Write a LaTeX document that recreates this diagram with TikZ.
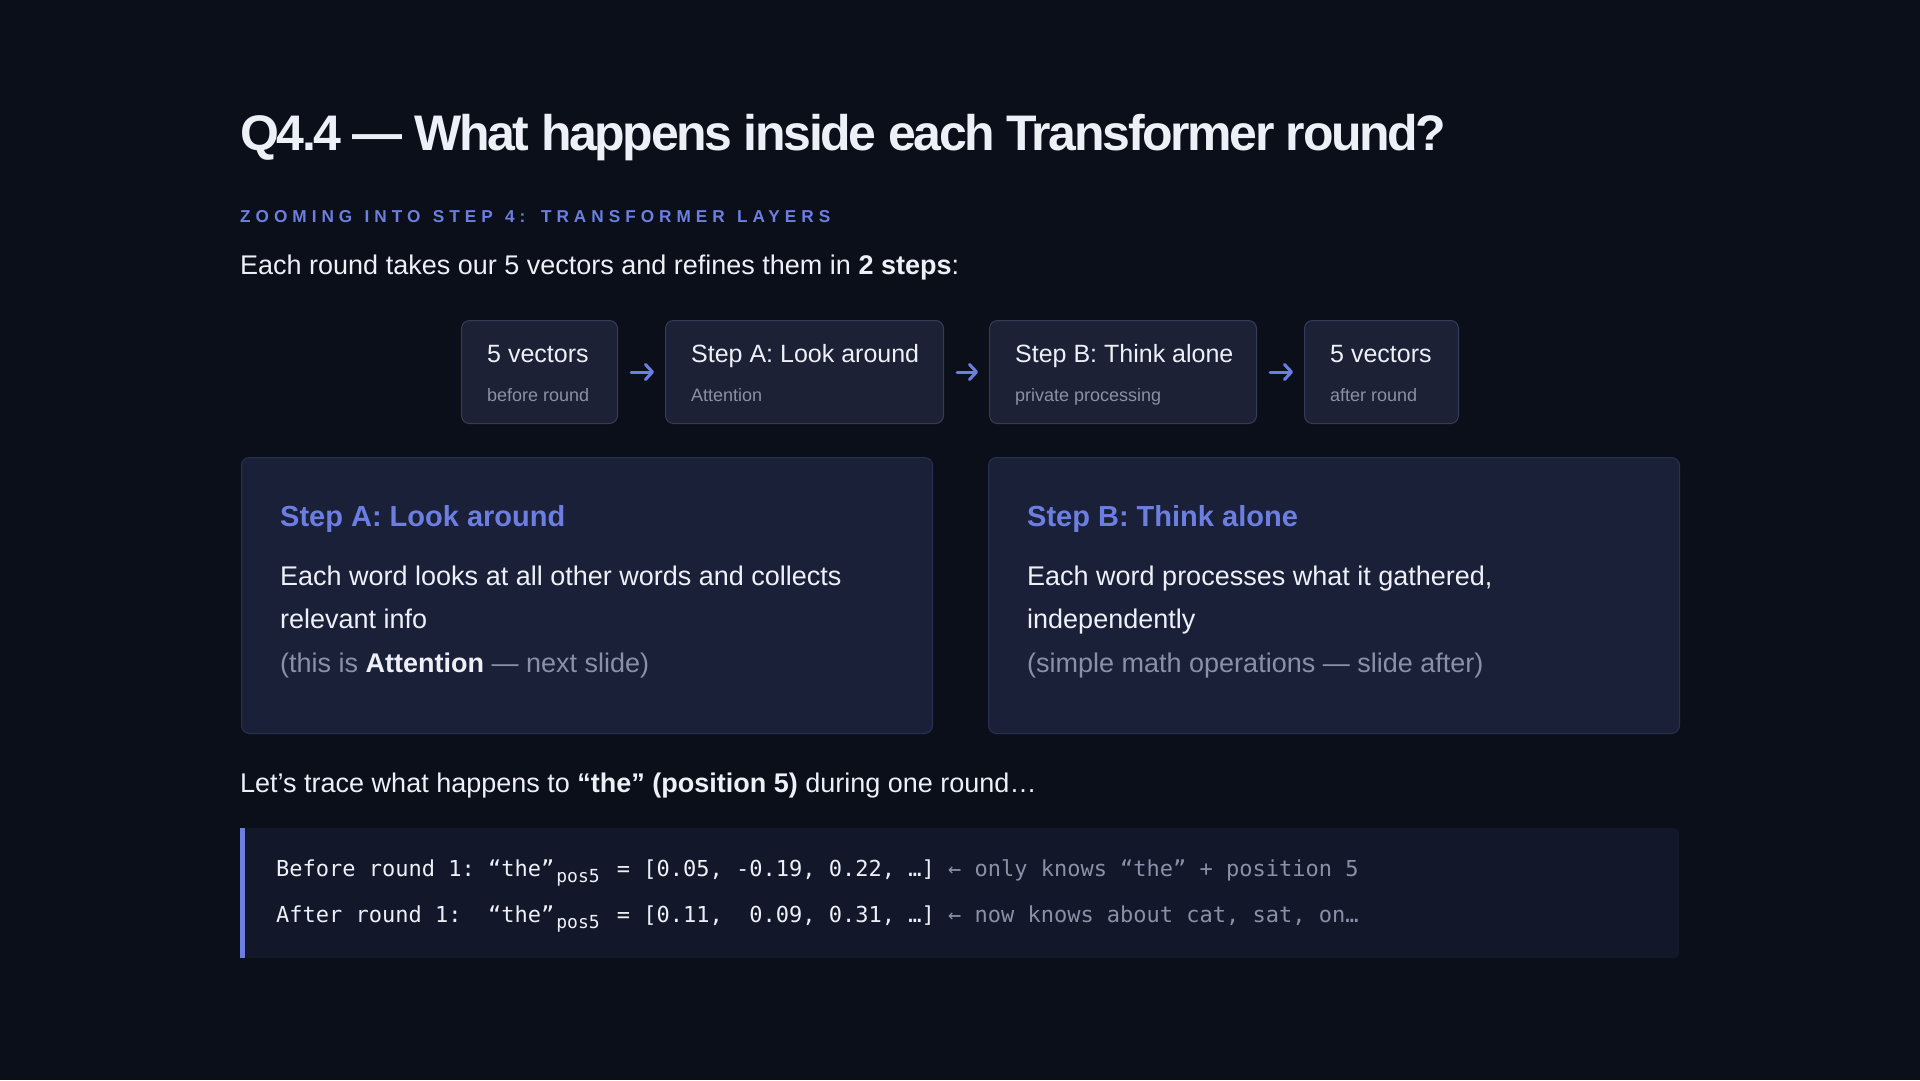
\documentclass[tikz,border=0pt]{standalone}
\usepackage{fontspec}
\usepackage{xcolor}
\setmainfont{Liberation Sans}
\setmonofont{DejaVu Sans Mono}
\newfontfamily\kickerfont{Liberation Sans}[LetterSpace=29,WordSpace=1.27]
\usetikzlibrary{positioning,calc,arrows.meta}

\definecolor{bgdark}{HTML}{0B0F1A}
\definecolor{cardfill}{HTML}{1B2039}
\definecolor{cardline}{HTML}{2A3150}
\definecolor{boxfill}{HTML}{1C2136}
\definecolor{boxline}{HTML}{343C58}
\definecolor{codefill}{HTML}{121729}
\definecolor{accent}{HTML}{6C7FE0}
\definecolor{textwhite}{HTML}{EEF0F7}
\definecolor{textgray}{HTML}{8A90A8}

\newcommand{\fsz}[2]{\fontsize{#1pt}{#2pt}\selectfont}
\newcommand{\possub}{\kern2pt\raisebox{-6pt}{\fsz{18}{18}pos5}\kern4pt}

\tikzset{
	txt/.style={inner sep=0pt, anchor=base west, text=textwhite},
	flowbox/.style={draw=boxline, fill=boxfill, line width=1pt, rounded corners=8pt,
		minimum height=103pt, inner sep=0pt, anchor=north west},
	flowmain/.style={txt, font=\fsz{25}{30}},
	flowsub/.style={txt, text=textgray, font=\fsz{18}{22}},
	flowarrow/.style={->, >={Straight Barb[length=7pt,width=15pt,round]}, accent,
		line width=3pt, line cap=round, shorten <=13pt, shorten >=11pt},
	card/.style={draw=cardline, fill=cardfill, line width=1pt, rounded corners=8pt,
		minimum width=691pt, minimum height=276pt, inner sep=0pt, anchor=north west},
	cardhead/.style={txt, text=accent, font=\bfseries\fsz{29}{34}},
	cardbody/.style={txt, font=\fsz{27}{30}},
	codebox/.style={fill=codefill, rounded corners=6pt, minimum width=1439pt,
		minimum height=130pt, inner sep=0pt, anchor=north west},
	codetxt/.style={txt, text=textwhite, font=\ttfamily\fsz{22}{24}}
}

\begin{document}
\begin{tikzpicture}[x=1pt,y=-1pt]
	\fill[bgdark] (0,0) rectangle (1920,1080);
	\useasboundingbox (0,0) rectangle (1920,1080);

	\node[txt, font=\bfseries\fsz{50}{60}\addfontfeature{LetterSpace=-4.75}] (title) at (240,150)
		{Q4.4 — What happens inside each Transformer round?};
	\node[txt, text=accent, font=\kickerfont\bfseries\fsz{17.2}{20}] (kicker) at (240,222)
		{ZOOMING INTO STEP 4: TRANSFORMER LAYERS};
	\node[txt, font=\fsz{27}{30}] (intro) at (240,274)
		{Each round takes our 5 vectors and refines them in \textbf{2 steps}:};

	\node[flowbox, minimum width=156pt] (vin) at (461,320) {};
	\node[flowmain] (vin-main) at ($(vin.north west)+(26,42)$) {5 vectors};
	\node[flowsub] (vin-sub) at ($(vin.north west)+(26,81)$) {before round};

	\node[flowbox, minimum width=278pt] (stepa) at (665,320) {};
	\node[flowmain] (stepa-main) at ($(stepa.north west)+(26,42)$) {Step A: Look around};
	\node[flowsub] (stepa-sub) at ($(stepa.north west)+(26,81)$) {Attention};

	\node[flowbox, minimum width=267pt] (stepb) at (989,320) {};
	\node[flowmain] (stepb-main) at ($(stepb.north west)+(26,42)$) {Step B: Think alone};
	\node[flowsub] (stepb-sub) at ($(stepb.north west)+(26,81)$) {private processing};

	\node[flowbox, minimum width=154pt] (vout) at (1304,320) {};
	\node[flowmain] (vout-main) at ($(vout.north west)+(26,42)$) {5 vectors};
	\node[flowsub] (vout-sub) at ($(vout.north west)+(26,81)$) {after round};

	\draw[flowarrow] (vin) -- (stepa);
	\draw[flowarrow] (stepa) -- (stepb);
	\draw[flowarrow] (stepb) -- (vout);

	\node[card] (carda) at (241,457) {};
	\node[cardhead] (carda-head) at ($(carda.north west)+(39,69)$) {Step A: Look around};
	\node[cardbody] (carda-l1) at ($(carda.north west)+(39,128)$) {Each word looks at all other words and collects};
	\node[cardbody] (carda-l2) at ($(carda.north west)+(39,171)$) {relevant info};
	\node[cardbody, text=textgray] (carda-l3) at ($(carda.north west)+(39,215)$)
		{(this is \textcolor{textwhite}{\bfseries Attention} — next slide)};

	\node[card] (cardb) at (988,457) {};
	\node[cardhead] (cardb-head) at ($(cardb.north west)+(39,69)$) {Step B: Think alone};
	\node[cardbody] (cardb-l1) at ($(cardb.north west)+(39,128)$) {Each word processes what it gathered,};
	\node[cardbody] (cardb-l2) at ($(cardb.north west)+(39,171)$) {independently};
	\node[cardbody, text=textgray] (cardb-l3) at ($(cardb.north west)+(39,215)$)
		{(simple math operations — slide after)};

	\node[txt, font=\fsz{27}{30}] (trace-intro) at (240,792)
		{Let’s trace what happens to \textbf{“the” (position 5)} during one round…};

	\node[codebox] (trace) at (240,828) {};
	\fill[accent] (trace.north west) rectangle ([xshift=5pt]trace.south west);
	\node[codetxt] (line-before) at ($(trace.north west)+(36,48)$)
		{Before round 1: “the”\possub\ = [0.05, -0.19, 0.22, …] \textcolor{textgray}{← only knows “the” + position 5}};
	\node[codetxt] (line-after) at ($(trace.north west)+(36,94)$)
		{After round 1:\ \ “the”\possub\ = [0.11,\ \ 0.09, 0.31, …] \textcolor{textgray}{← now knows about cat, sat, on…}};
\end{tikzpicture}
\end{document}
